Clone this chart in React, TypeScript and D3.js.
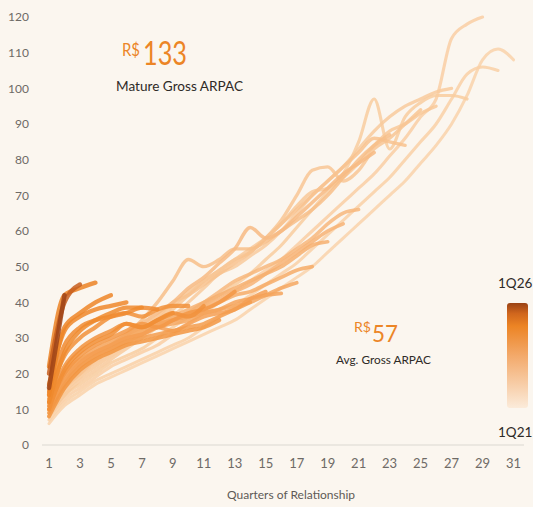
import React from "react";
import * as d3 from "d3";

// Cohort ARPAC curves (R$), oldest -> newest, one value per quarter of relationship
const cohort00 = [6, 11, 14, 17, 19, 21, 23, 25, 27, 29, 31, 33, 35, 38, 41, 44, 47, 50, 54, 58, 62, 66, 70, 74, 79, 84, 90, 98, 108, 111, 108];
const cohort01 = [7, 12, 15, 18, 20, 22, 24, 26, 28, 30, 33, 36, 39, 42, 45, 48, 51, 55, 59, 63, 67, 71, 75, 80, 85, 90, 97, 104, 106, 105];
const cohort02 = [8, 13, 16, 19, 22, 24, 26, 28, 31, 34, 37, 40, 43, 46, 49, 52, 56, 60, 64, 68, 72, 76, 81, 86, 92, 97, 114, 118, 120];
const cohort03 = [8, 14, 17, 20, 23, 25, 27, 30, 33, 36, 39, 42, 45, 48, 52, 56, 61, 66, 71, 76, 85, 97, 83, 92, 96, 98, 98, 97];
const cohort04 = [9, 14, 18, 21, 24, 27, 30, 33, 36, 40, 44, 48, 50, 53, 56, 60, 65, 70, 74, 78, 83, 88, 92, 95, 97, 99, 100];
const cohort05 = [9, 15, 19, 22, 25, 28, 31, 34, 38, 42, 46, 49, 52, 55, 58, 62, 67, 71, 72, 75, 79, 84, 88, 90, 93, 95];
const cohort06 = [10, 16, 20, 23, 26, 29, 32, 35, 39, 43, 46, 49, 52, 54, 58, 63, 70, 77, 78, 74, 77, 83, 86, 90, 94];
const cohort07 = [10, 16, 20, 24, 27, 30, 33, 36, 40, 42, 45, 48, 51, 54, 58, 62, 66, 70, 74, 78, 82, 86, 85, 84];
const cohort08 = [11, 17, 21, 25, 28, 31, 35, 40, 46, 52, 50, 52, 55, 55, 57, 60, 63, 66, 70, 75, 80, 84, 87];
const cohort09 = [11, 17, 22, 25, 28, 31, 34, 37, 40, 44, 47, 51, 55, 61, 58, 60, 64, 68, 72, 76, 79, 82];
const cohort10 = [11, 18, 22, 25, 27, 29, 31, 33, 35, 37, 40, 43, 46, 48, 50, 52, 55, 58, 62, 65, 66];
const cohort11 = [12, 18, 22, 25, 27, 29, 31, 33, 35, 37, 39, 41, 43, 45, 48, 51, 54, 57, 60, 62];
const cohort12 = [12, 19, 23, 26, 28, 30, 32, 34, 36, 38, 40, 42, 44, 46, 48, 50, 53, 56, 57];
const cohort13 = [12, 19, 23, 26, 28, 30, 32, 33, 35, 36, 38, 40, 42, 43, 45, 47, 49, 50];
const cohort14 = [13, 20, 24, 26, 28, 30, 31, 33, 34, 35, 37, 38, 39, 40, 42, 44, 45.5];
const cohort15 = [13, 20, 24, 27, 29, 31, 33, 34, 35, 36, 37, 38, 40, 41, 42, 42.5];
const cohort16 = [10, 18, 23, 26, 28, 30, 31, 33, 32, 34, 36, 37, 38, 41, 43];
const cohort17 = [9, 17, 22, 25, 27, 29, 30, 31, 32, 33, 34, 36, 38, 40];
const cohort18 = [11, 20, 25, 28, 30, 32, 34, 33, 35, 37, 38, 40, 43];
const cohort19 = [8, 16, 21, 24, 26, 28, 29, 30, 31, 32, 33, 35];
const cohort20 = [12, 22, 27, 30, 32, 34, 33, 35, 37, 36, 39];
const cohort21 = [14, 25, 30, 33, 36, 37, 36, 38, 39, 39];
const cohort22 = [10, 21, 26, 29, 31, 34, 33, 35, 37];
const cohort23 = [15, 28, 33, 35, 36, 37, 38.5, 38];
const cohort24 = [12, 26, 32, 35, 37, 38.5, 38.5];
const cohort25 = [17, 32, 36, 38, 39, 40];
const cohort26 = [14, 33, 37, 40, 42];
const cohort27 = [22, 42, 44, 45.5];
const cohort28 = [20, 40, 45];
const cohort29 = [16, 42];

const cohorts = [
  cohort00, cohort01, cohort02, cohort03, cohort04, cohort05, cohort06, cohort07, cohort08, cohort09,
  cohort10, cohort11, cohort12, cohort13, cohort14, cohort15, cohort16, cohort17, cohort18, cohort19,
  cohort20, cohort21, cohort22, cohort23, cohort24, cohort25, cohort26, cohort27, cohort28, cohort29,
];

const xTicks = [1, 3, 5, 7, 9, 11, 13, 15, 17, 19, 21, 23, 25, 27, 29, 31];
const yTicks = [0, 10, 20, 30, 40, 50, 60, 70, 80, 90, 100, 110, 120];
const legendLabels = ["1Q26", "1Q21"];
const matureValue = "133";
const avgValue = "57";
const matureLabel = "Mature Gross ARPAC";
const avgLabel = "Avg. Gross ARPAC";
const xTitle = "Quarters of Relationship";

const W = 533;
const H = 507;
const BG = "#FBF6EF";
const ORANGE = "#EC8526";
const FONT = "Lato, 'Open Sans', sans-serif";

export default function App() {
  const x = d3.scaleLinear().domain([1, 31]).range([49, 513.5]);
  const y = d3.scaleLinear().domain([0, 120]).range([445, 17]);
  const color = d3
    .scaleLinear<string>()
    .domain([0, 0.2, 0.35, 0.5, 0.65, 0.8, 0.93, 0.966, 1])
    .range(["#F9D2AA", "#F8C695", "#F7B67B", "#F5A55D", "#F29542", "#F08B30", "#EC8324", "#C75D1D", "#9E4316"])
    .clamp(true);
  const line = d3
    .line<number>()
    .x((_, i) => x(i + 1))
    .y((d) => y(d))
    .curve(d3.curveMonotoneX);
  const n = cohorts.length;

  return (
    <div style={{ position: "fixed", left: 0, top: 0, width: W, height: H, background: BG }}>
      <svg width={W} height={H} style={{ display: "block" }} fontFamily={FONT}>
        <defs>
          <linearGradient id="legendGrad" x1="0" y1="0" x2="0" y2="1">
            <stop offset="0%" stopColor="#9A4214" />
            <stop offset="10%" stopColor="#D0661D" />
            <stop offset="22%" stopColor="#EC8424" />
            <stop offset="50%" stopColor="#F3A96A" />
            <stop offset="100%" stopColor="#FBEBDA" />
          </linearGradient>
        </defs>
        <rect x={0} y={0} width={W} height={H} fill={BG} />

        {/* axis baseline */}
        <line x1={42} x2={524} y1={y(0)} y2={y(0)} stroke="#DCD8D2" strokeWidth={1.2} />

        {yTicks.map((t) => (
          <text key={t} x={29} y={y(t)} dy="0.36em" textAnchor="end" fontSize={12} fill="#6E6A66">
            {t}
          </text>
        ))}
        {xTicks.map((t) => (
          <text key={t} x={x(t)} y={468} textAnchor="middle" fontSize={13} fill="#6E6A66">
            {t}
          </text>
        ))}
        <text x={291} y={499} textAnchor="middle" fontSize={12} fill="#5E5A56">
          {xTitle}
        </text>

        {/* cohort lines */}
        {cohorts.map((c, i) => {
          const t = i / (n - 1);
          return (
            <path
              key={i}
              d={line(c) || ""}
              fill="none"
              stroke={color(t)}
              strokeWidth={3 + 1.5 * t}
              strokeOpacity={0.85}
              strokeLinecap="round"
              strokeLinejoin="round"
            />
          );
        })}

        {/* annotations */}
        <text x={122} y={56} fontSize={16.5} fill={ORANGE} textLength={18} lengthAdjust="spacingAndGlyphs">R$</text>
        <text x={143} y={65} fontSize={33} fill={ORANGE} textLength={44} lengthAdjust="spacingAndGlyphs">{matureValue}</text>
        <text x={116} y={91} fontSize={13} fill="#2E2A27" textLength={127} lengthAdjust="spacingAndGlyphs">{matureLabel}</text>

        <text x={354} y={332} fontSize={13.5} fill={ORANGE} textLength={17} lengthAdjust="spacingAndGlyphs">R$</text>
        <text x={372} y={342} fontSize={24} fill={ORANGE} textLength={26} lengthAdjust="spacingAndGlyphs">{avgValue}</text>
        <text x={336} y={364} fontSize={12} fill="#2E2A27" textLength={95} lengthAdjust="spacingAndGlyphs">{avgLabel}</text>

        {/* legend */}
        <text x={498} y={288} fontSize={13.5} fill="#2E2A27">{legendLabels[0]}</text>
        <rect x={507} y={303} width={21} height={105} rx={3} fill="url(#legendGrad)" />
        <text x={498} y={437} fontSize={13.5} fill="#2E2A27">{legendLabels[1]}</text>
      </svg>
    </div>
  );
}
